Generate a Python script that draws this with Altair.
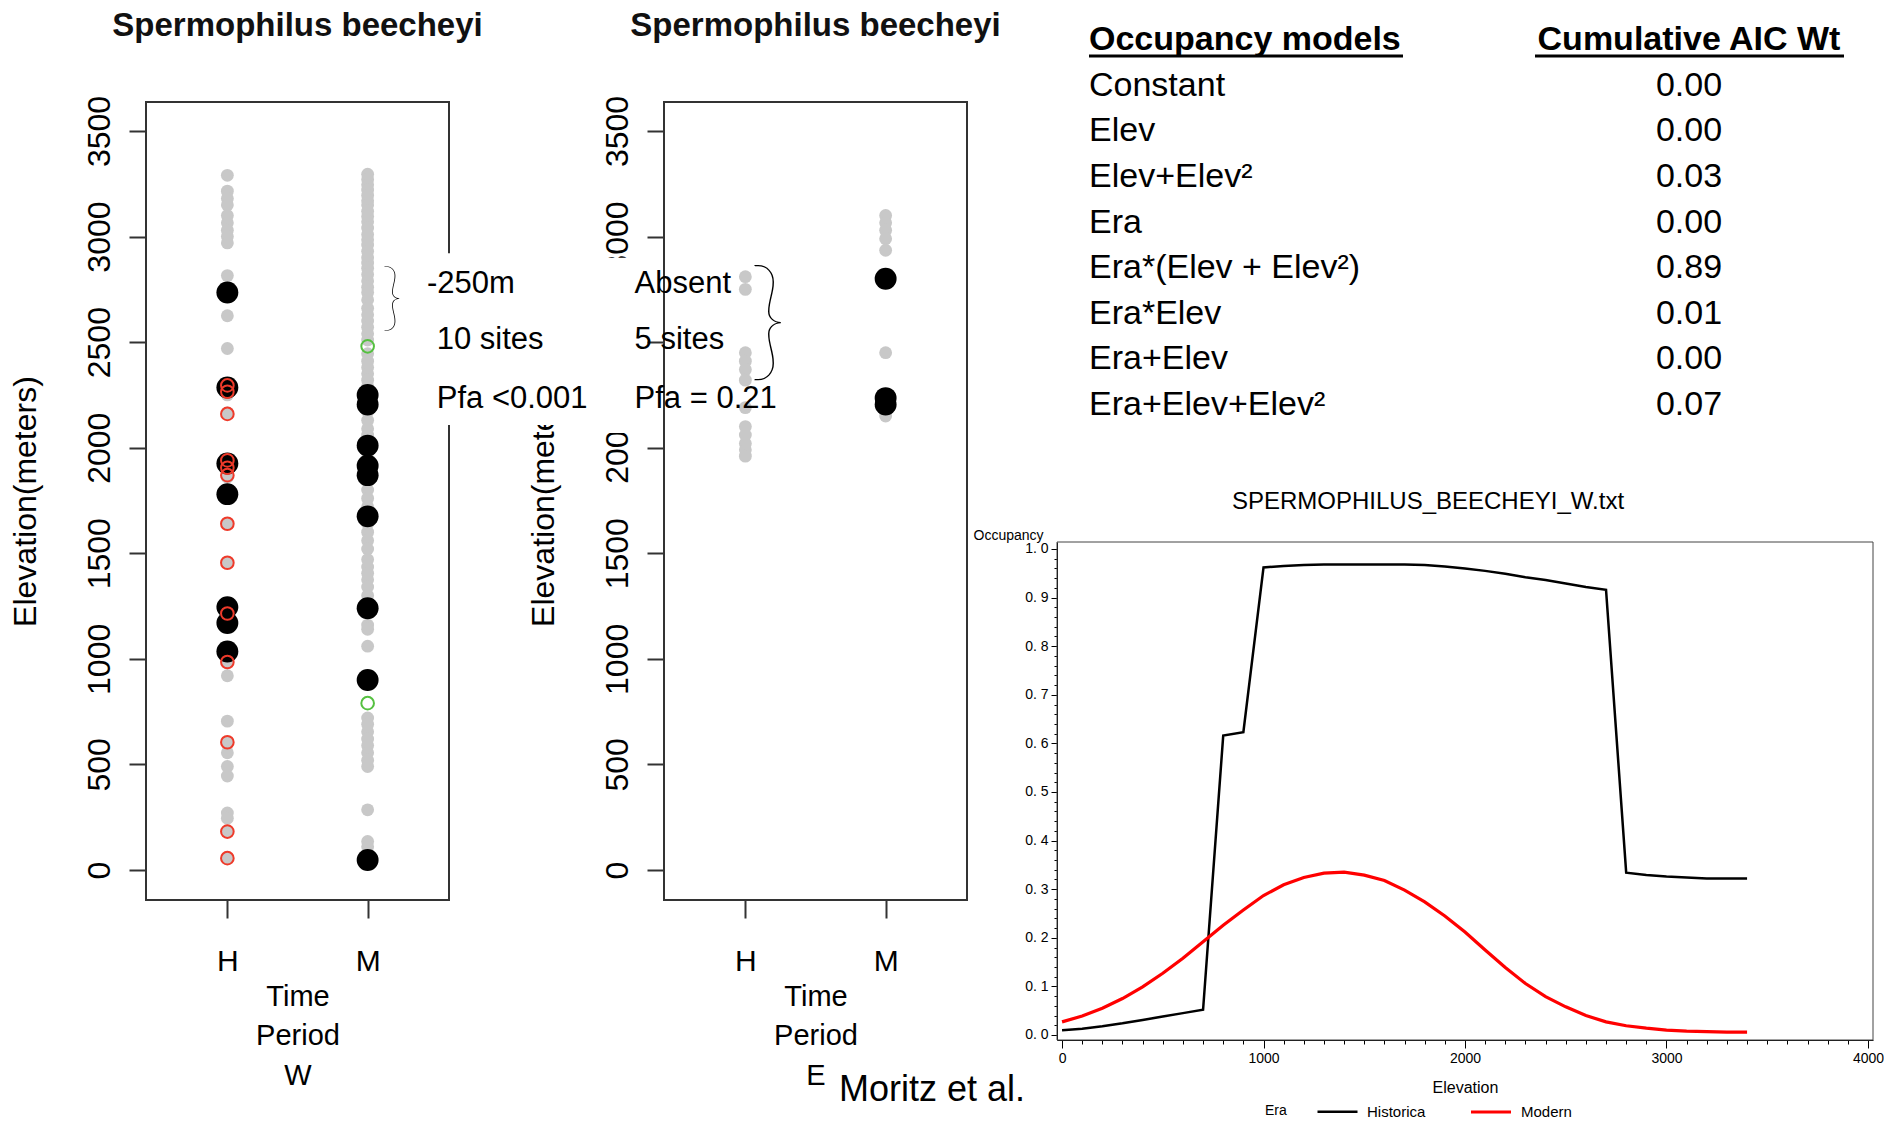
import altair as alt
import pandas as pd

FONT = "Liberation Sans"

# ---------------- data: strip charts (elevation, m) ----------------
W_H_gray = [3290, 3215, 3180, 3150, 3100, 3065, 3030, 3000, 2970, 2815, 2730, 2625, 2470,
            2290, 2250, 2165, 1935, 1895, 1860, 1790, 1640, 1455, 1245, 1215, 1165, 1035,
            985, 920, 705, 605, 555, 490, 445, 270, 245, 182, 56]
W_H_black = [2735, 2285, 1925, 1780, 1245, 1170, 1035]
W_H_red = [2295, 2265, 2160, 1940, 1905, 1870, 1640, 1455, 1215, 985, 605, 182, 56]
W_M_gray = [3295, 3270, 3245, 3220, 3195, 3170, 3150, 3120, 3095, 3070, 3040, 3010, 2985,
            2960, 2930, 2900, 2875, 2850, 2820, 2790, 2760, 2735, 2700, 2660, 2630, 2600,
            2570, 2540, 2510, 2445, 2410, 2380, 2350, 2320, 2290, 2170, 2130, 2090, 2060,
            1975, 1840, 1800, 1760, 1720, 1640, 1600, 1560, 1520, 1470, 1435, 1405, 1375,
            1340, 1300, 1160, 1140, 1060, 720, 690, 655, 620, 590, 555, 520, 490, 285, 135, 110]
W_M_black = [2250, 2205, 2010, 1915, 1870, 1675, 1240, 900, 47]
W_M_green = [2480, 790]
E_H_gray = [2810, 2750, 2450, 2410, 2370, 2320, 2190, 2100, 2060, 2020, 1990, 1960]
E_M_gray = [3100, 3065, 3030, 2990, 2935, 2450, 2150]
E_M_black = [2800, 2235, 2205]

# ---------------- data: occupancy curves ----------------
elevation = [0, 100, 200, 300, 400, 500, 600, 700, 800, 900, 1000, 1100, 1200, 1300, 1400,
             1500, 1600, 1700, 1800, 1900, 2000, 2100, 2200, 2300, 2400, 2500, 2600, 2700,
             2800, 2900, 3000, 3100, 3200, 3300, 3400]
occ_historical = [0.010, 0.013, 0.018, 0.024, 0.031, 0.038, 0.045, 0.052, 0.616, 0.623, 0.962,
                  0.965, 0.967, 0.968, 0.968, 0.968, 0.968, 0.968, 0.967, 0.964, 0.960, 0.955,
                  0.949, 0.942, 0.936, 0.929, 0.922, 0.916, 0.334, 0.329, 0.326, 0.324, 0.322,
                  0.322, 0.322]
occ_modern = [0.027, 0.039, 0.055, 0.075, 0.099, 0.127, 0.158, 0.192, 0.226, 0.257, 0.287,
              0.309, 0.324, 0.333, 0.335, 0.329, 0.318, 0.298, 0.274, 0.245, 0.212, 0.175,
              0.139, 0.106, 0.079, 0.058, 0.040, 0.027, 0.019, 0.014, 0.010, 0.008, 0.007,
              0.006, 0.006]
era_names = ["Historica", "Modern"]
legend_title = "Era"

# ---------------- data: model table ----------------
models = ["Constant", "Elev", "Elev+Elev²", "Era", "Era*(Elev + Elev²)", "Era*Elev",
          "Era+Elev", "Era+Elev+Elev²"]
aic_wt = [0.00, 0.00, 0.03, 0.00, 0.89, 0.01, 0.00, 0.07]
headers = ["Occupancy models", "Cumulative AIC Wt"]

# ---------------- layout constants ----------------
X_LO, X_HI = 0.42, 2.58
Y_LO, Y_HI = -142.1, 3637.3
PANEL_W, PANEL_H = 303, 798
PPU = PANEL_W / (X_HI - X_LO)
W_PLOT_W = 428
W_X_HI = X_LO + W_PLOT_W / PPU
Y_TICKS = [0, 500, 1000, 1500, 2000, 2500, 3000, 3500]


def col(vals, x):
    return pd.DataFrame({"x": [x] * len(vals), "elev": vals})


def strip_panel(groups, sub, plot_w, x_hi, extras):
    xs = alt.Scale(domain=[X_LO, x_hi], nice=False, zero=False)
    ys = alt.Scale(domain=[Y_LO, Y_HI], nice=False, zero=False)
    xaxis = alt.Axis(values=[1, 2], labelExpr="datum.value == 1 ? 'H' : 'M'",
                     tickSize=18, tickWidth=2, tickColor="#333", domain=False, grid=False,
                     labelFont=FONT, labelFontSize=30, labelPadding=28, labelColor="black",
                     title=["Time", "Period", sub], titleFont=FONT, titleFontSize=29,
                     titleFontWeight="normal", titleColor="black", titleX=PANEL_W / 2,
                     titleY=82, titleBaseline="top", titleAlign="center", titleLineHeight=39.5)
    yaxis = alt.Axis(values=Y_TICKS, format="d", labelAngle=270, labelAlign="center",
                     labelBaseline="middle", labelPadding=30, tickSize=17, tickWidth=2,
                     tickColor="#333", domain=False, grid=False, labelFont=FONT,
                     labelFontSize=32, labelColor="black", title="Elevation(meters)",
                     titleFont=FONT, titleFontSize=32, titleFontWeight="normal",
                     titleColor="black", titleAngle=270, titleX=-121, titleY=PANEL_H / 2,
                     titleAlign="center", titleBaseline="middle")
    X = alt.X("x:Q", scale=xs, axis=xaxis)
    Y = alt.Y("elev:Q", scale=ys, axis=yaxis)

    frame = alt.Chart(pd.DataFrame({"x": [X_LO], "x2": [X_HI], "elev": [Y_LO], "e2": [Y_HI]})).mark_rect(
        fill="white", fillOpacity=0, stroke="#333", strokeWidth=2).encode(
        x=X, x2="x2:Q", y=Y, y2="e2:Q")
    layers = [frame]
    styles = {
        "gray": dict(kind="circle", size=165, color="#c8c8c8"),
        "black": dict(kind="circle", size=480, color="black"),
        "red": dict(kind="ring", size=160, color="#ee3a2a"),
        "green": dict(kind="ring", size=160, color="#55c040"),
    }
    for key in ["gray", "black", "red", "green"]:
        if key not in groups:
            continue
        st = styles[key]
        df = pd.concat(groups[key], ignore_index=True)
        if st["kind"] == "circle":
            m = alt.Chart(df).mark_circle(size=st["size"], color=st["color"], opacity=1)
        else:
            m = alt.Chart(df).mark_point(shape="circle", filled=False, size=st["size"],
                                         color=st["color"], strokeWidth=2, opacity=1)
        layers.append(m.encode(x=X, y=Y))
    for e in extras:
        layers.append(e(X, Y))
    title = alt.TitleParams("Spermophilus beecheyi", font=FONT, fontSize=33, fontWeight="bold",
                            color="#111", anchor="middle", frame="group", offset=52,
                            dx=PANEL_W / 2 - plot_w / 2)
    return alt.layer(*layers).properties(width=plot_w, height=PANEL_H, title=title)


# annotations (in E-panel data units; W annotations sit left of E panel)
notes = pd.DataFrame({
    "x": [-1.27, -1.20, -1.20, 0.21, 0.21, 0.21],
    "elev": [2775, 2510, 2230, 2775, 2510, 2230],
    "label": ["-250m", "10 sites", "Pfa <0.001", "Absent", "5 sites", "Pfa = 0.21"],
})
boxes = pd.DataFrame({"x": [-1.33, -0.065], "x2": [-0.10, 0.28],
                      "elev": [2107, 2070], "e2": [2921, 2900]})
brace_w = pd.DataFrame({"x": [-1.52], "elev": [2700], "label": ["}"]})
brace_e = pd.DataFrame({"x": [1.16], "elev": [2585], "label": ["}"]})
credit = pd.DataFrame({"x": [1.667], "elev": [-1043], "label": ["Moritz et al."]})


def box_layer(X, Y):
    return alt.Chart(boxes).mark_rect(color="white").encode(x=X, x2="x2:Q", y=Y, y2="e2:Q")


def note_layer(X, Y):
    return alt.Chart(notes).mark_text(font=FONT, fontSize=31, align="left",
                                      baseline="middle", color="black").encode(
        x=X, y=Y, text="label:N")


def brace_w_layer(X, Y):
    return alt.Chart(brace_w).mark_text(font="Lato", fontWeight=200, fontSize=74,
                                        align="center", baseline="middle",
                                        color="black").encode(x=X, y=Y, text="label:N")


def brace_e_layer(X, Y):
    return alt.Chart(brace_e).mark_text(font="Lato", fontWeight=100, fontSize=132,
                                        align="center", baseline="middle",
                                        color="black").encode(x=X, y=Y, text="label:N")


def credit_layer(X, Y):
    return alt.Chart(credit).mark_text(font=FONT, fontSize=36, align="left",
                                       baseline="middle", color="black").encode(
        x=X, y=Y, text="label:N")


W = strip_panel(
    {"gray": [col(W_H_gray, 1), col(W_M_gray, 2)],
     "black": [col(W_H_black, 1), col(W_M_black, 2)],
     "red": [col(W_H_red, 1)],
     "green": [col(W_M_green, 2)]},
    "W", W_PLOT_W, W_X_HI, [])

E = strip_panel(
    {"gray": [col(E_H_gray, 1), col(E_M_gray, 2)],
     "black": [col(E_M_black, 2)]},
    "E", PANEL_W, X_HI,
    [box_layer, note_layer, brace_w_layer, brace_e_layer, credit_layer])

# ---------------- occupancy line chart ----------------
L_W, L_H = 816, 938
lines = pd.DataFrame({
    "Elevation": elevation + elevation,
    "Occupancy": occ_historical + occ_modern,
    "Era": [era_names[0]] * len(elevation) + [era_names[1]] * len(elevation),
})
lx = alt.Scale(domain=[-25, 4025], nice=False, zero=False)
ly = alt.Scale(domain=[-0.0103, 1.0144], range=[L_H, 440], nice=False, zero=False)
x_major = "datum.value % 1000 === 0"
y_major = "abs(datum.value * 10 - round(datum.value * 10)) < 0.000001"
lxaxis = alt.Axis(values=[v * 100 for v in range(41)],
                  labelExpr=f"{x_major} ? format(datum.value, 'd') : ''",
                  tickSize={"condition": {"test": x_major, "value": 8}, "value": 4},
                  tickColor="black", domainColor="black", grid=False, labelOverlap=False,
                  labelFont=FONT, labelFontSize=14, labelColor="black", labelPadding=3,
                  title="Elevation", titleFont=FONT, titleFontSize=16,
                  titleFontWeight="normal", titleColor="black", titleX=L_W / 2, titleY=47,
                  titleBaseline="middle")
lyaxis = alt.Axis(values=[round(v * 0.02, 2) for v in range(51)],
                  labelExpr=f"{y_major} ? replace(format(datum.value, '.1f'), '.', '. ') : ''",
                  tickSize={"condition": {"test": y_major, "value": 6}, "value": 3},
                  tickColor="black", domainColor="black", grid=False, labelOverlap=False,
                  labelFont=FONT, labelFontSize=14, labelColor="black", labelPadding=3,
                  title="Occupancy", titleFont=FONT, titleFontSize=14,
                  titleFontWeight="normal", titleColor="black", titleAngle=0,
                  titleX=-84, titleY=433, titleAlign="left", titleBaseline="middle")
LX = alt.X("Elevation:Q", scale=lx, axis=lxaxis)
LY = alt.Y("Occupancy:Q", scale=ly, axis=lyaxis)

l_frame = alt.Chart(pd.DataFrame({"Elevation": [-25], "e2": [4025],
                                  "Occupancy": [-0.0103], "o2": [1.0144]})).mark_rect(
    fill="white", fillOpacity=0, stroke="#444", strokeWidth=1).encode(
    x=LX, x2="e2:Q", y=LY, y2="o2:Q")
l_lines = alt.Chart(lines).mark_line().encode(
    x=LX, y=LY,
    strokeWidth=alt.StrokeWidth("Era:N", scale=alt.Scale(domain=era_names, range=[2.5, 3.2]),
                                legend=None),
    color=alt.Color("Era:N", scale=alt.Scale(domain=era_names, range=["black", "red"]),
                    legend=alt.Legend(orient="none", legendX=1170, legendY=988, padding=0,
                                      direction="horizontal", title=None,
                                      symbolType="stroke", symbolSize=1600,
                                      symbolStrokeWidth=3, labelFont=FONT, labelFontSize=15,
                                      labelColor="black", columnPadding=38, labelOffset=8)))
plot_part = alt.layer(l_frame, l_lines)

row_ids = ["h"] + [f"r{i}" for i in range(len(models))]
tscale = alt.Scale(type="point", domain=row_ids, range=[-62, 303], padding=0)
TY = alt.Y("r:N", scale=tscale, axis=None)
hdr = pd.DataFrame({"r": ["h"], "a": [headers[0]], "b": [headers[1]]})
rows = pd.DataFrame({"r": row_ids[1:], "a": models, "b": aic_wt})
t_h1 = alt.Chart(hdr).mark_text(font=FONT, fontSize=34, fontWeight="bold", align="left",
                                baseline="middle", color="black").encode(
    x=alt.value(32), y=TY, text="a:N")
t_h2 = alt.Chart(hdr).mark_text(font=FONT, fontSize=34, fontWeight="bold", align="center",
                                baseline="middle", color="black").encode(
    x=alt.value(632), y=TY, text="b:N")
u1 = alt.Chart(hdr).mark_rule(color="black", strokeWidth=3, yOffset=16).encode(
    x=alt.value(32), x2=alt.value(346), y=TY)
u2 = alt.Chart(hdr).mark_rule(color="black", strokeWidth=3, yOffset=16).encode(
    x=alt.value(478), x2=alt.value(787), y=TY)
t_a = alt.Chart(rows).mark_text(font=FONT, fontSize=34, align="left", baseline="middle",
                                color="black").encode(x=alt.value(32), y=TY, text="a:N")
t_b = alt.Chart(rows).mark_text(font=FONT, fontSize=34, align="center", baseline="middle",
                                color="black").encode(
    x=alt.value(632), y=TY, text=alt.Text("b:Q", format=".2f"))
era_lbl = alt.Chart(pd.DataFrame({"t": [legend_title]})).mark_text(
    font=FONT, fontSize=14, align="left", baseline="middle", color="black").encode(
    x=alt.value(208), y=alt.value(1009), text="t:N")
table_part = alt.layer(u1, u2, t_h1, t_h2, t_a, t_b, era_lbl)

L = alt.layer(plot_part, table_part).resolve_scale(y="independent").properties(
    width=L_W, height=L_H,
    title=alt.TitleParams("SPERMOPHILUS_BEECHEYI_W.txt", font=FONT, fontSize=24,
                          fontWeight="normal", color="black", anchor="middle", frame="group",
                          offset=0, dy=491, dx=-37))

chart = alt.hconcat(W, E, L, spacing=90, bounds="flush").properties(
    padding={"left": 1, "top": 2, "right": 0, "bottom": 0}).configure_view(strokeOpacity=0)

chart.save("out.html", embed_options={"renderer": "svg", "actions": False})
